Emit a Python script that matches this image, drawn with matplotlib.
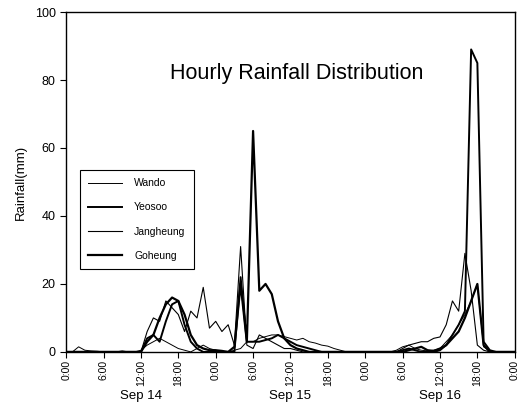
import numpy as np
import matplotlib
matplotlib.use("Agg")
import matplotlib.pyplot as plt
import matplotlib.transforms as mtransforms

plt.rcParams['font.family'] = ['Liberation Sans', 'DejaVu Sans']

# hourly rainfall (mm), Sep 14 0:00 .. Sep 17 0:00
hours = np.arange(73)
wando = ([0, 0, 1.5, 0.5, 0.3, 0.2, 0, 0, 0, 0.3, 0, 0, 0.5, 2, 3, 4, 3, 2, 1, 0.5, 0, 1, 2, 1]
         + [0.5, 0, 0, 0.5, 1, 3, 3, 4, 4.5, 5, 5, 4.5, 4, 3.5, 4, 3, 2.6, 2, 1.7, 1, 0.5, 0, 0, 0]
         + [0, 0, 0, 0, 0, 0.5, 1.5, 2, 1, 0.5, 0.3, 0.5, 1, 3, 5, 8, 11, 15, 20, 1.5, 0.3, 0, 0, 0, 0])
yeosoo = ([0, 0, 0, 0, 0, 0, 0, 0, 0, 0, 0, 0, 0, 4, 5, 3, 9, 14, 15, 8, 3, 1, 0, 0]
          + [0, 0, 0, 0, 22, 3, 3, 3, 3.5, 4, 5, 4, 3, 2, 1.5, 1, 0.5, 0, 0, 0, 0, 0, 0, 0]
          + [0, 0, 0, 0, 0, 0, 0.5, 1, 0.5, 0, 0, 0, 0.5, 2, 5, 8, 12, 89, 85, 3, 0.5, 0, 0, 0, 0])
jangheung = ([0, 0, 0, 0, 0, 0, 0, 0, 0, 0, 0, 0, 0, 6, 10, 9, 15, 13, 11, 6, 12, 10, 19, 7]
             + [9, 6, 8, 2, 31, 2, 1, 5, 4, 3, 2, 1, 1, 0.5, 0, 0, 0, 0, 0, 0, 0, 0, 0, 0]
             + [0, 0, 0, 0, 0, 0, 1, 2, 2.5, 3, 3, 4, 4.4, 8, 15, 12, 29, 18, 2, 0.5, 0, 0, 0, 0, 0])
goheung = ([0, 0, 0, 0, 0, 0, 0, 0, 0, 0, 0, 0, 0, 3, 5, 10, 14, 16, 15, 11, 5, 2, 1, 0.5]
           + [0.5, 0.3, 0, 1.5, 20, 3, 65, 18, 20, 17, 9, 4, 2, 1, 0.5, 0, 0, 0, 0, 0, 0, 0, 0, 0]
           + [0, 0, 0, 0, 0, 0, 0, 0.5, 1, 1.5, 0.5, 0.3, 1, 2, 4, 6, 10, 15, 20, 2, 0, 0, 0, 0, 0])

tick_labels = ['0:00', '6:00', '12:00', '18:00'] * 3 + ['0:00']
days = ['Sep 14', 'Sep 15', 'Sep 16']

fig = plt.figure(figsize=(5.21, 4.15), dpi=100)
ax = fig.add_axes([0.127, 0.152, 0.861, 0.819])

ax.plot(hours, wando, color='black', lw=0.7, label='Wando')
ax.plot(hours, yeosoo, color='black', lw=1.4, label='Yeosoo')
ax.plot(hours, jangheung, color='black', lw=0.8, label='Jangheung')
ax.plot(hours, goheung, color='black', lw=1.6, label='Goheung')

ax.set_xlim(0, 72)
ax.set_ylim(0, 100)
ax.set_yticks(np.arange(0, 101, 20))
ax.set_xticks(np.arange(0, 73, 6))
ax.set_xticklabels(tick_labels, rotation=90, fontsize=7.5)
ax.tick_params(axis='y', labelsize=9, length=4)
ax.tick_params(axis='x', length=4, pad=2)
ax.set_ylabel('Rainfall(mm)', fontsize=9.5, labelpad=6)

for sp in ax.spines.values():
    sp.set_linewidth(1.0)

trans = mtransforms.blended_transform_factory(ax.transData, ax.transAxes)
for i, d in enumerate(days):
    ax.text(12 + 24 * i, -0.13, d, transform=trans, ha='center', va='center', fontsize=9.5)

ax.text(0.514, 0.82, 'Hourly Rainfall Distribution', transform=ax.transAxes,
        ha='center', va='center', fontsize=15.5)

leg = ax.legend(loc='upper left', bbox_to_anchor=(0.031, 0.535), borderaxespad=0,
                fontsize=7.5, frameon=True, fancybox=False, edgecolor='black',
                framealpha=1, handlelength=3.2, labelspacing=1.35, borderpad=0.8,
                handletextpad=1.2)
leg.get_frame().set_linewidth(0.8)

fig.savefig('out.png', dpi=100)
